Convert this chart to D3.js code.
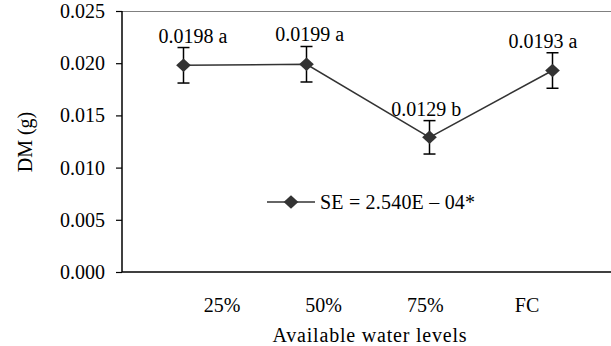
<!DOCTYPE html>
<html><head><meta charset="utf-8">
<script src="https://cdn.jsdelivr.net/npm/d3@7"></script>
<style>
html,body{margin:0;padding:0;background:#fff;}
</style></head>
<body>
<svg id="chart" width="611" height="346"></svg>
<script>
const categories = ["25%", "50%", "75%", "FC"];
const dmValues = [0.0198, 0.0199, 0.0129, 0.0193];
const seErrors = [0.0017, 0.0017, 0.0016, 0.0017];
const pointLabels = ["0.0198 a", "0.0199 a", "0.0129 b", "0.0193 a"];
const yTicks = [0, 0.005, 0.010, 0.015, 0.020, 0.025];
const legendText = "SE = 2.540E – 04*";
const xTitle = "Available water levels";
const yTitle = "DM (g)";

(function () {
const W = 611, H = 346;
const mLeft = 122, mTop = 11, mBottom = 272;
const FONT = "Liberation Serif";
const svg = d3.select("#chart").style("font-family", FONT);

const y = d3.scaleLinear().domain([0, 0.025]).range([mBottom, mTop]);
const x = d3.scaleBand().domain(categories).range([mLeft, 614]).padding(0);
const xl = d3.scalePoint().domain(categories).range([222, 527]);   // category label positions
const xd = d3.scalePoint().domain(categories).range([193, 543]);   // data label positions
const cx = c => x(c) + x.bandwidth() / 2;

// top border
svg.append("line").attr("x1", mLeft).attr("x2", W).attr("y1", mTop + 0.5).attr("y2", mTop + 0.5)
  .attr("stroke", "#808080").attr("stroke-width", 1.2);

// y axis
const yAxis = d3.axisLeft(y).tickValues(yTicks).tickFormat(d3.format(".3f")).tickSize(6).tickPadding(11);
const gy = svg.append("g").attr("transform", `translate(${mLeft},0)`).call(yAxis);
gy.attr("font-family", null).attr("font-size", null);
gy.select(".domain").remove();
gy.selectAll(".tick line").attr("stroke", "#000").attr("stroke-width", 1.2);
gy.selectAll(".tick text").style("font-family", FONT).style("font-size", "20px").attr("fill", "#000");
svg.append("line").attr("x1", mLeft).attr("x2", mLeft).attr("y1", mTop).attr("y2", mBottom)
  .attr("stroke", "#000").attr("stroke-width", 1.5);

// x axis line
svg.append("line").attr("x1", mLeft).attr("x2", W).attr("y1", mBottom).attr("y2", mBottom)
  .attr("stroke", "#000").attr("stroke-width", 1.5);

// x tick labels
svg.append("g").selectAll("text").data(categories).join("text")
  .attr("x", d => xl(d)).attr("y", 312).attr("text-anchor", "middle")
  .style("font-family", FONT).style("font-size", "20px").text(d => d);

// axis titles
svg.append("text").attr("x", 370).attr("y", 342).attr("text-anchor", "middle")
  .style("font-family", FONT).style("font-size", "20px").attr("letter-spacing", 0.8).text(xTitle);
svg.append("text").attr("transform", "translate(32,142) rotate(-90)").attr("text-anchor", "middle")
  .style("font-family", FONT).style("font-size", "20px").text(yTitle);

const pts = categories.map((c, i) => ({c, v: dmValues[i], e: seErrors[i], lab: pointLabels[i]}));

// line
svg.append("path").datum(pts)
  .attr("d", d3.line().x(d => cx(d.c)).y(d => y(d.v)))
  .attr("fill", "none").attr("stroke", "#333").attr("stroke-width", 1.5);

// error bars
const eb = svg.append("g").attr("stroke", "#000").attr("stroke-width", 1.5);
pts.forEach(d => {
  const xc = cx(d.c);
  eb.append("line").attr("x1", xc).attr("x2", xc).attr("y1", y(d.v + d.e)).attr("y2", y(d.v - d.e));
  eb.append("line").attr("x1", xc - 6).attr("x2", xc + 6).attr("y1", y(d.v + d.e)).attr("y2", y(d.v + d.e));
  eb.append("line").attr("x1", xc - 6).attr("x2", xc + 6).attr("y1", y(d.v - d.e)).attr("y2", y(d.v - d.e));
});

// markers (diamond = rotated square)
const square = d3.symbol().type(d3.symbolSquare).size(108);
svg.append("g").selectAll("path").data(pts).join("path")
  .attr("transform", d => `translate(${cx(d.c)},${y(d.v)}) scale(1,0.92) rotate(45)`)
  .attr("d", square).attr("fill", "#333");

// point labels
svg.append("g").selectAll("text").data(pts).join("text")
  .attr("x", d => xd(d.c)).attr("y", d => y(d.v + d.e) - 5)
  .attr("text-anchor", "middle").style("font-family", FONT).style("font-size", "20px").text(d => d.lab);

// legend
const lg = svg.append("g").attr("transform", "translate(267,202)");
lg.append("line").attr("x1", 0).attr("x2", 48).attr("stroke", "#333").attr("stroke-width", 1.5);
lg.append("path").attr("d", square).attr("transform", "translate(24,0) scale(1,0.92) rotate(45)").attr("fill", "#333");
lg.append("text").attr("x", 53).attr("y", 7).style("font-family", FONT).style("font-size", "20px")
  .attr("letter-spacing", 0.2).text(legendText);
})();
</script>
</body></html>
